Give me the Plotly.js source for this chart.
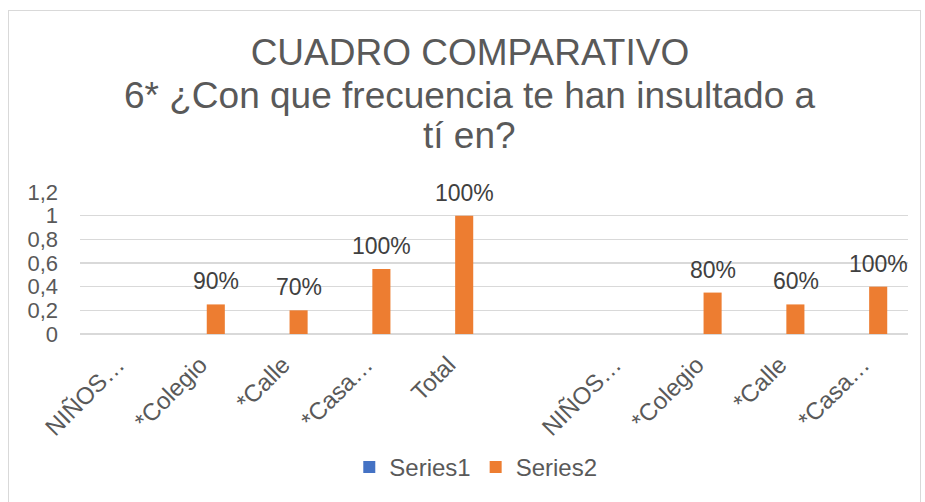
<!DOCTYPE html>
<html>
<head>
<meta charset="utf-8">
<script src="https://cdn.plot.ly/plotly-3.0.1.min.js"></script>
<style>
html,body{margin:0;padding:0;background:#fff;}
#wrap{position:relative;width:925px;height:502px;}
#chart{width:925px;height:502px;}
#frame{position:absolute;left:8px;top:10px;width:913px;height:500px;border:1px solid #d9d9d9;pointer-events:none;box-sizing:border-box;}
</style>
</head>
<body>
<div id="wrap"><div id="chart"></div><div id="frame"></div></div>
<script>
var titleLines = ["CUADRO COMPARATIVO", "6* ¿Con que frecuencia te han insultado a", "tí en?"];
var categories = ["NIÑOS…", "*Colegio", "*Calle", "*Casa…", "Total", "", "NIÑOS…", "*Colegio", "*Calle", "*Casa…"];
var series1 = [0, 0, 0, 0, 0, null, 0, 0, 0, 0];
var series2 = [0, 0.25, 0.2, 0.55, 1, null, 0, 0.35, 0.25, 0.4];
var series2Labels = ["", "90%", "70%", "100%", "100%", "", "", "80%", "60%", "100%"];
var yTicks = [0, 0.2, 0.4, 0.6, 0.8, 1, 1.2];
var yTickLabels = ["0", "0,2", "0,4", "0,6", "0,8", "1", "1,2"];

var idx = categories.map(function(_, i){ return i; });
var font = "Liberation Sans, Arial, sans-serif";

var traces = [
  {type:"bar", name:"Series1", x:idx, y:series1, marker:{color:"#4472C4"}, hoverinfo:"skip"},
  {type:"bar", name:"Series2", x:idx, y:series2, marker:{color:"#ED7D31"}, hoverinfo:"skip"}
];

var annotations = [];
series2.forEach(function(v, i){
  if (v === null || !series2Labels[i]) return;
  annotations.push({x:idx[i], y:v, xref:"x", yref:"y", text:series2Labels[i], showarrow:false,
    xanchor:"center", yanchor:"middle", xshift:12, yshift:23,
    font:{family:font, size:23, color:"#404040"}});
});
// subtitle lines (title continues)
var titleY = [1.683, 1.401];
[1, 2].forEach(function(k, j){
  annotations.push({x:0.471, y:titleY[j], xref:"paper", yref:"paper", text:titleLines[k], showarrow:false,
    xanchor:"center", yanchor:"middle", font:{family:font, size:37, color:"#595959"}});
});

var layout = {
  width:925, height:502,
  paper_bgcolor:"#ffffff", plot_bgcolor:"#ffffff",
  margin:{l:80, r:17, t:192, b:168},
  title:{text:titleLines[0], font:{family:font, size:37, color:"#595959"},
         x:0.508, xref:"container", xanchor:"center", y:0.897, yref:"container", yanchor:"middle"},
  annotations:annotations,
  barmode:"group", bargap:0.44, bargroupgap:0.22,
  xaxis:{range:[-0.5, 9.5], tickmode:"array", tickvals:idx, ticktext:categories,
         tickangle:-45, showgrid:false, zeroline:false, showline:false, ticks:"",
         ticklabelstandoff:11, ticklabelshift:-4,
         tickfont:{family:font, size:24, color:"#595959"}},
  yaxis:{range:[0, 1.2], tickmode:"array", tickvals:yTicks, ticktext:yTickLabels,
         showgrid:true, gridcolor:"#d9d9d9", gridwidth:1.5, zeroline:true, zerolinecolor:"#d9d9d9", zerolinewidth:1.5,
         showline:false, ticks:"", ticklabelstandoff:21,
         tickfont:{family:font, size:22, color:"#595959"}},
  showlegend:true,
  legend:{orientation:"h", x:0.478, xanchor:"center", y:-0.94, yanchor:"middle",
          font:{family:font, size:24, color:"#595959"}, itemwidth:30, traceorder:"normal"}
};

Plotly.newPlot("chart", traces, layout, {displayModeBar:false, staticPlot:true});
</script>
</body>
</html>
